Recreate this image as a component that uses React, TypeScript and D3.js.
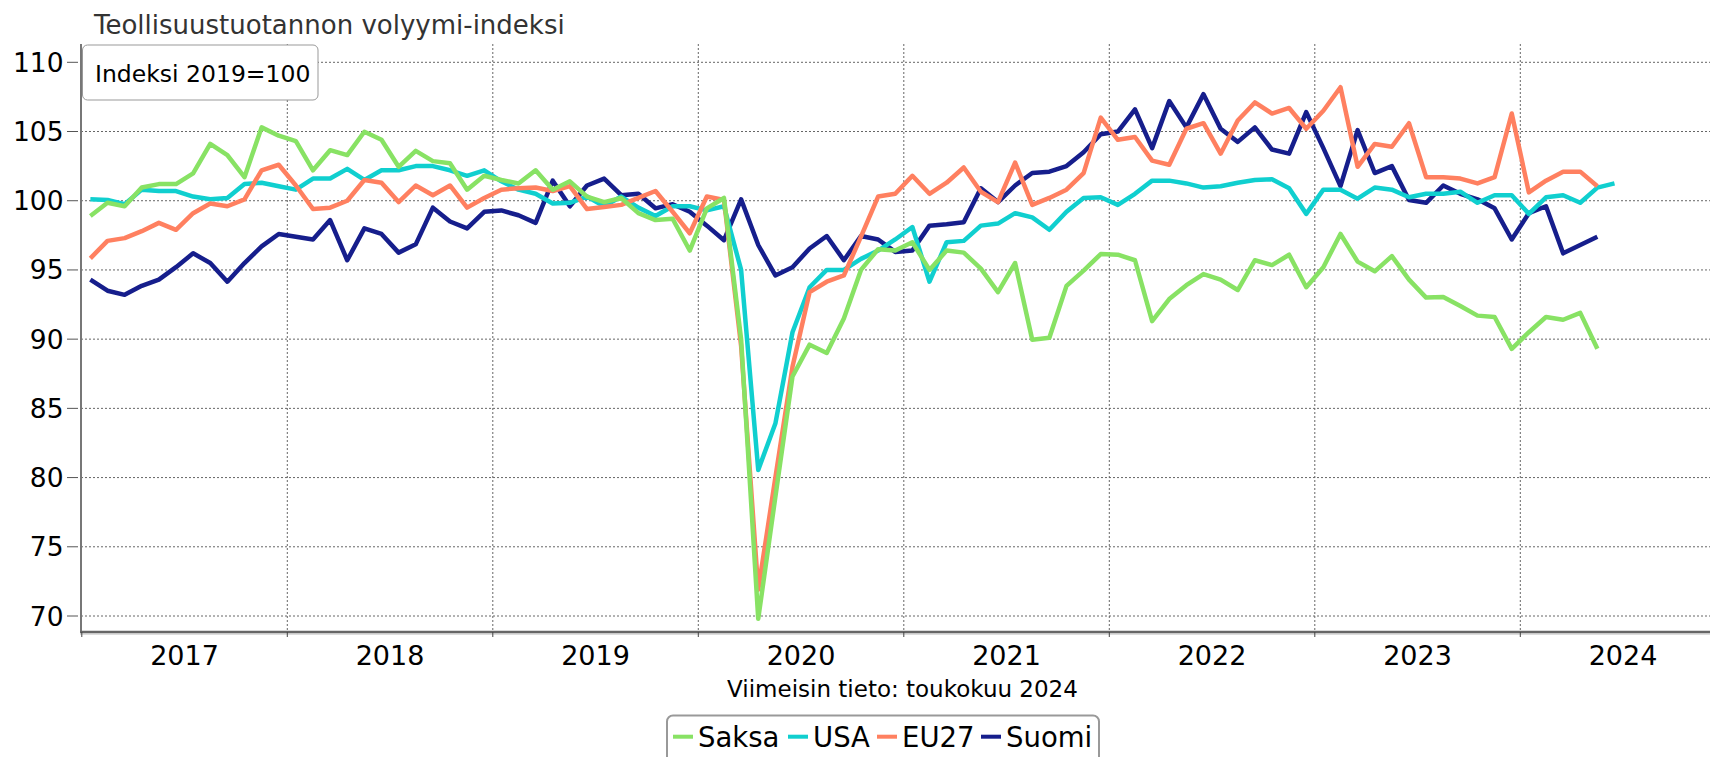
import React from "react";
import * as d3 from "d3";

// Monthly values starting January 2017 (index 2019 = 100)
const saksa: number[] = [
  98.9, 99.85, 99.6, 100.96, 101.2, 101.2, 101.97, 104.1, 103.3, 101.7, 105.3, 104.7,
  104.3, 102.2, 103.65, 103.3, 104.98, 104.4, 102.45, 103.6, 102.86, 102.7, 100.8, 101.8,
  101.5, 101.25, 102.2, 100.8, 101.4, 100.3, 99.9, 100.2, 99.1, 98.6, 98.7, 96.4,
  99.45, 100.2, 90.0, 69.8, 78.6, 87.3, 89.6, 89.0, 91.5, 95.0, 96.5, 96.4,
  97.0, 95.0, 96.4, 96.25, 95.1, 93.4, 95.5, 89.95, 90.1, 93.85, 94.95, 96.15,
  96.1, 95.7, 91.3, 92.9, 93.9, 94.7, 94.3, 93.55, 95.7, 95.35, 96.1, 93.75,
  95.2, 97.6, 95.6, 94.9, 96.0, 94.3, 93.0, 93.05, 92.4, 91.7, 91.6, 89.3,
  90.5, 91.6, 91.4, 91.9, 89.3,
];
const usa: number[] = [
  100.1, 100.05, 99.75, 100.8, 100.7, 100.7, 100.3, 100.1, 100.2, 101.2, 101.3, 101.05,
  100.8, 101.6, 101.6, 102.3, 101.5, 102.2, 102.2, 102.5, 102.5, 102.2, 101.8, 102.2,
  101.4, 100.8, 100.5, 99.8, 99.85, 100.3, 99.6, 100.3, 99.5, 98.9, 99.6, 99.6,
  99.3, 99.6, 95.0, 80.55, 83.9, 90.5, 93.75, 95.0, 95.0, 95.8, 96.4, 97.2,
  98.1, 94.15, 97.0, 97.1, 98.2, 98.35, 99.1, 98.8, 97.9, 99.2, 100.2, 100.25,
  99.7, 100.5, 101.45, 101.45, 101.25, 100.95, 101.05, 101.3, 101.5, 101.55, 100.9, 99.05,
  100.8, 100.8, 100.15, 100.95, 100.8, 100.25, 100.5, 100.5, 100.65, 99.85, 100.4, 100.4,
  99.05, 100.25, 100.4, 99.85, 100.95, 101.25,
];
const eu27: number[] = [
  95.84, 97.1, 97.3, 97.8, 98.4, 97.9, 99.1, 99.8, 99.6, 100.1, 102.2, 102.6,
  101.1, 99.4, 99.5, 100.0, 101.5, 101.3, 99.9, 101.1, 100.4, 101.1, 99.5, 100.2,
  100.8, 100.9, 100.95, 100.7, 101.05, 99.4, 99.55, 99.7, 100.2, 100.7, 99.2, 97.65,
  100.3, 100.05, 89.5, 71.9, 80.0, 88.0, 93.4, 94.15, 94.6, 97.4, 100.3, 100.5,
  101.8, 100.5, 101.3, 102.4, 100.65, 99.9, 102.75, 99.7, 100.2, 100.8, 102.0, 106.0,
  104.4, 104.6, 102.9, 102.6, 105.2, 105.6, 103.4, 105.8, 107.1, 106.3, 106.7, 105.2,
  106.5, 108.2, 102.45, 104.1, 103.9, 105.6, 101.7, 101.7, 101.6, 101.25, 101.7, 106.3,
  100.6, 101.45, 102.1, 102.1, 101.05,
];
const suomi: number[] = [
  94.3, 93.5, 93.2, 93.85, 94.3, 95.2, 96.2, 95.5, 94.15, 95.5, 96.7, 97.6,
  97.4, 97.2, 98.6, 95.7, 98.0, 97.6, 96.25, 96.85, 99.5, 98.5, 98.0, 99.2,
  99.3, 98.95, 98.4, 101.45, 99.6, 101.1, 101.6, 100.4, 100.5, 99.45, 99.75, 99.2,
  98.2, 97.15, 100.1, 96.8, 94.6, 95.2, 96.55, 97.45, 95.7, 97.45, 97.2, 96.3,
  96.4, 98.2, 98.3, 98.45, 100.9, 99.9, 101.1, 102.0, 102.1, 102.5, 103.5, 104.8,
  105.0, 106.6, 103.8, 107.2, 105.3, 107.7, 105.2, 104.25, 105.3, 103.7, 103.4, 106.4,
  103.8, 101.05, 105.1, 102.0, 102.5, 100.05, 99.85, 101.1, 100.5, 100.1, 99.45, 97.2,
  99.1, 99.6, 96.2, 96.8, 97.4,
];

const years: string[] = ["2017", "2018", "2019", "2020", "2021", "2022", "2023", "2024"];
const yTicks: number[] = [70, 75, 80, 85, 90, 95, 100, 105, 110];

const seriesNames: string[] = ["Saksa", "USA", "EU27", "Suomi"];
const seriesColors: string[] = ["#88e264", "#10cfcf", "#ff8060", "#161e8c"];

const FONT = "'DejaVu Sans', Verdana, sans-serif";

export default function App() {
  const W = 1710;
  const H = 757;
  const left = 81;
  const plotTop = 44;
  const plotBottom = 632;

  const x = d3.scaleLinear().domain([0, 96]).range([81.8, 1725.8]);
  const y = d3.scaleLinear().domain([70, 110]).range([616, 62.3]);

  const line = d3
    .line<number>()
    .x((_, i) => x(i + 0.5))
    .y((d) => y(d))
    .curve(d3.curveLinear);

  const data = [saksa, usa, eu27, suomi];
  const drawOrder = [3, 1, 2, 0];

  const legendX = [673, 788, 877, 981];

  return (
    <div style={{ position: "absolute", left: 0, top: 0 }}>
      <svg width={W} height={H} style={{ display: "block", background: "#fff" }}>
        {/* subtitle */}
        <text x={94} y={34} fontFamily={FONT} fontSize={26} fill="#333">
          Teollisuustuotannon volyymi-indeksi
        </text>

        {/* horizontal gridlines */}
        {yTicks.map((t) => (
          <line
            key={"hg" + t}
            x1={left}
            x2={W}
            y1={y(t)}
            y2={y(t)}
            stroke="#666"
            strokeWidth={1}
            strokeDasharray="2,2"
          />
        ))}
        {/* vertical gridlines at year boundaries */}
        {years.map((yr, k) =>
          k === 0 ? null : (
            <line
              key={"vg" + yr}
              x1={x(12 * k)}
              x2={x(12 * k)}
              y1={plotTop}
              y2={plotBottom}
              stroke="#666"
              strokeWidth={1}
              strokeDasharray="2,2"
            />
          )
        )}

        {/* series lines */}
        {drawOrder.map((si) => (
          <path
            key={seriesNames[si]}
            d={line(data[si]) || ""}
            fill="none"
            stroke={seriesColors[si]}
            strokeWidth={4.5}
            strokeLinejoin="round"
            strokeLinecap="butt"
          />
        ))}

        {/* left axis */}
        <line x1={left} x2={left} y1={plotTop} y2={plotBottom} stroke="#777" strokeWidth={2} />
        {yTicks.map((t) => (
          <g key={"yt" + t}>
            <line x1={67} x2={78} y1={y(t)} y2={y(t)} stroke="#555" strokeWidth={1} />
            <text
              x={63.5}
              y={y(t)}
              dy="0.36em"
              textAnchor="end"
              fontFamily={FONT}
              fontSize={26.5}
              fill="#000"
            >
              {t}
            </text>
          </g>
        ))}

        {/* bottom axis */}
        <line x1={left - 1} x2={W} y1={plotBottom} y2={plotBottom} stroke="#666" strokeWidth={2.5} />
        <line x1={left - 1} x2={W} y1={plotBottom + 2} y2={plotBottom + 2} stroke="#bbb" strokeWidth={1} />
        {years.map((yr, k) => (
          <g key={"xt" + yr}>
            <line
              x1={x(12 * k)}
              x2={x(12 * k)}
              y1={plotBottom}
              y2={plotBottom + 5}
              stroke="#444"
              strokeWidth={1}
            />
            <text
              x={x(12 * k + 6)}
              y={665}
              textAnchor="middle"
              fontFamily={FONT}
              fontSize={27}
              fill="#000"
            >
              {yr}
            </text>
          </g>
        ))}

        {/* annotation box */}
        <rect x={82.5} y={45} width={235.5} height={55} rx={5} fill="#fff" stroke="#999" strokeWidth={1} />
        <text x={95} y={82.3} fontFamily={FONT} fontSize={23.5} fill="#000">
          Indeksi 2019=100
        </text>

        {/* footnote */}
        <text x={902.5} y={697} textAnchor="middle" fontFamily={FONT} fontSize={23} fill="#000">
          Viimeisin tieto: toukokuu 2024
        </text>

        {/* legend */}
        <rect x={667} y={715.5} width={432} height={60} rx={6} fill="#fff" stroke="#999" strokeWidth={2} />
        {seriesNames.map((n, i) => (
          <g key={"lg" + n}>
            <rect x={legendX[i]} y={734.7} width={20} height={4} fill={seriesColors[i]} />
            <text x={legendX[i] + 25} y={747.3} fontFamily={FONT} fontSize={27.5} fill="#000">
              {n}
            </text>
          </g>
        ))}
      </svg>
    </div>
  );
}
